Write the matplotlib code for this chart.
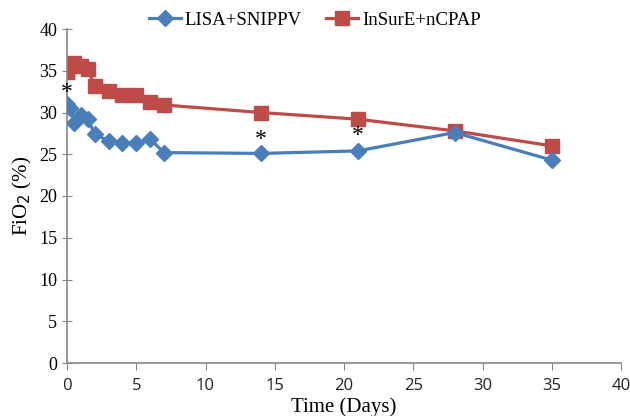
import numpy as np
import matplotlib.pyplot as plt

plt.rcParams['font.family'] = ['Liberation Serif', 'DejaVu Serif']

days = [0, 0.25, 0.5, 1, 1.5, 2, 3, 4, 5, 6, 7, 14, 21, 28, 35]
lisa = [31.0, 30.5, 28.8, 29.7, 29.2, 27.4, 26.6, 26.4, 26.4, 26.8, 25.2, 25.1, 25.4, 27.6, 24.3]
insure = [34.9, 35.6, 35.9, 35.6, 35.2, 33.2, 32.6, 32.1, 32.1, 31.2, 30.9, 30.0, 29.2, 27.8, 26.0]

# significance marks
star_x = [0, 14, 21]
star_y = [32.4, 26.8, 27.3]

blue = '#4A7EBB'
red = '#BE4B48'

fig = plt.figure(figsize=(6.3, 4.16), dpi=100)
ax = fig.add_axes([67/630, 1 - 363/416, (621-67)/630, (363-29)/416])

ax.plot(days, lisa, color=blue, lw=2.3, marker='D', ms=8.5, label='LISA+SNIPPV', zorder=3)
ax.plot(days, insure, color=red, lw=2.3, marker='s', ms=9.5, label='InSurE+nCPAP', zorder=2)
for x, y in zip(star_x, star_y):
    ax.text(x, y, '*', fontsize=17, ha='center', va='center', color='black', zorder=4)

ax.set_xlim(0, 40)
ax.set_ylim(0, 40)
ax.set_xticks(np.arange(0, 41, 5))
ax.set_yticks(np.arange(0, 41, 5))
ax.tick_params(color='#868686', length=5, direction='out')
ax.tick_params(axis='y', direction='inout', length=7, labelsize=13)
ax.tick_params(axis='x', labelsize=12, pad=6, labelcolor='#222222')
for lbl in ax.get_xticklabels():
    lbl.set_family(['Open Sans', 'DejaVu Sans'])
for s in ['top', 'right']:
    ax.spines[s].set_visible(False)
for s in ['left', 'bottom']:
    ax.spines[s].set_color('#868686')
    ax.spines[s].set_linewidth(1.2)

ax.set_xlabel('Time (Days)', fontsize=15, labelpad=2)
ax.set_ylabel('FiO$_2$ (%)', fontsize=15, labelpad=4)

fig.legend(loc='center', bbox_to_anchor=(0.5, 1 - 20/416), ncol=2, frameon=False,
           fontsize=13.5, handlelength=1.7, handletextpad=0.2, columnspacing=1.3)

fig.savefig('out.png', dpi=100)
